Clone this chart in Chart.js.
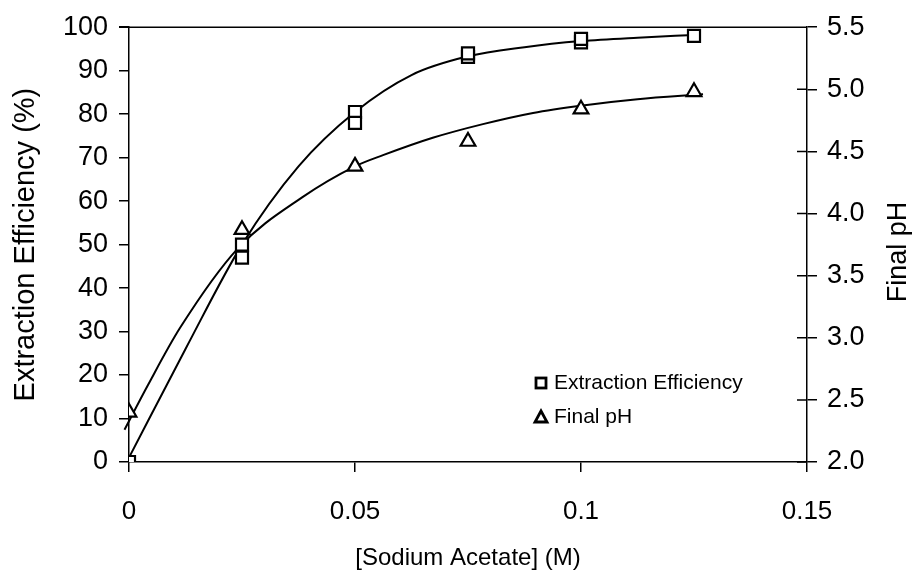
<!DOCTYPE html>
<html>

<head>
    <title>Extraction Efficiency vs Sodium Acetate</title>
    <style>
        body {
            margin: 0px;
            background-color: #ffffff;
        }
    </style>
    <!-- Chart.js for drawing the chart -->
    <script src="https://cdn.jsdelivr.net/npm/chart.js"></script>
</head>

<body>
    <div style="position: relative; width: 917px; height: 579px;">
        <canvas id="myChart"></canvas>
    </div>
</body>
<script>
// Measured points: extraction efficiency (%) at each sodium acetate concentration (M)
const eeConc = [0, 0.025, 0.025, 0.05, 0.05, 0.075, 0.075, 0.1, 0.1, 0.125];
const eeValues = [0, 50, 47, 80.5, 78, 93.2, 94, 96.5, 97.3, 98];

// Measured points: final pH
const phConc = [0, 0.025, 0.05, 0.075, 0.1, 0.125];
const phValues = [2.4, 3.87, 4.38, 4.58, 4.84, 4.98];

// Smooth trend lines traced through the data
const eeFitConc = [0, 0.0125, 0.025, 0.0375, 0.05, 0.0625, 0.075, 0.0875, 0.1, 0.1125, 0.125];
const eeFitValues = [1, 26, 50, 68, 80.5, 89, 93.3, 95.4, 96.8, 97.6, 98.2];
const phFitConc = [-0.001, 0.0042, 0.0113, 0.0241, 0.0383, 0.05, 0.0562, 0.0672, 0.0783, 0.0894, 0.1004, 0.1125, 0.127];
const phFitValues = [2.26, 2.62, 3.08, 3.72, 4.13, 4.38, 4.47, 4.61, 4.72, 4.81, 4.87, 4.92, 4.96];

// Axis ticks
const xTicks = [0, 0.05, 0.1, 0.15];
const xTickLabels = ['0', '0.05', '0.1', '0.15'];
const eeTicks = [0, 10, 20, 30, 40, 50, 60, 70, 80, 90, 100];
const phTicks = [2.0, 2.5, 3.0, 3.5, 4.0, 4.5, 5.0, 5.5];

const legendItems = ['Extraction Efficiency', 'Final pH'];

const FONT = '"Liberation Sans", Arial, sans-serif';

function toPoints(xs, ys) {
    return xs.map((x, i) => ({ x: x, y: ys[i] }));
}

// Top frame line, inward ticks on the right axis, the right title and the legend
const extrasPlugin = {
    id: 'extras',
    afterDraw(chart) {
        const ctx = chart.ctx;
        const area = chart.chartArea;
        const y2 = chart.scales.y2;
        ctx.save();
        ctx.strokeStyle = '#000';
        ctx.lineWidth = 1.5;
        ctx.beginPath();
        ctx.moveTo(area.left - 10, area.top);
        ctx.lineTo(area.right, area.top);
        phTicks.forEach(v => {
            const py = y2.getPixelForValue(v);
            ctx.moveTo(area.right - 10, py);
            ctx.lineTo(area.right, py);
        });
        ctx.stroke();

        // right axis title, reading bottom to top
        ctx.fillStyle = '#000';
        ctx.font = '27px ' + FONT;
        ctx.textAlign = 'center';
        ctx.textBaseline = 'middle';
        ctx.translate(899, 252);
        ctx.rotate(-Math.PI / 2);
        ctx.fillText('Final pH', 0, 0);
        ctx.restore();

        // legend
        ctx.save();
        ctx.strokeStyle = '#000';
        ctx.fillStyle = '#000';
        ctx.lineWidth = 2.8;
        ctx.font = '21px ' + FONT;
        ctx.textAlign = 'left';
        ctx.textBaseline = 'middle';
        const lx = 541, ly1 = 383, ly2 = 417;
        ctx.strokeRect(lx - 5, ly1 - 5, 10, 10);
        ctx.fillText(legendItems[0], lx + 13, ly1);
        ctx.beginPath();
        ctx.moveTo(lx, ly2 - 6);
        ctx.lineTo(lx + 6, ly2 + 5);
        ctx.lineTo(lx - 6, ly2 + 5);
        ctx.closePath();
        ctx.stroke();
        ctx.fillText(legendItems[1], lx + 13, ly2);
        ctx.restore();
    }
};

const chartContext = document.getElementById('myChart').getContext('2d');

const myChart = new Chart(chartContext, {
    type: 'line',
    data: {
        datasets: [{
            label: legendItems[0],
            data: toPoints(eeConc, eeValues),
            yAxisID: 'y',
            showLine: false,
            pointStyle: 'rect',
            pointRadius: 8.5,
            pointBorderWidth: 2.2,
            pointBorderColor: '#000',
            pointBackgroundColor: '#fff'
        }, {
            label: legendItems[1],
            data: toPoints(phConc, phValues),
            yAxisID: 'y2',
            showLine: false,
            pointStyle: 'triangle',
            pointRadius: 8.5,
            pointBorderWidth: 2.2,
            pointBorderColor: '#000',
            pointBackgroundColor: '#fff'
        }, {
            label: 'ee fit',
            data: toPoints(eeFitConc, eeFitValues),
            yAxisID: 'y',
            borderColor: '#000',
            borderWidth: 2,
            pointRadius: 0,
            cubicInterpolationMode: 'monotone'
        }, {
            label: 'ph fit',
            data: toPoints(phFitConc, phFitValues),
            yAxisID: 'y2',
            borderColor: '#000',
            borderWidth: 2,
            pointRadius: 0,
            cubicInterpolationMode: 'monotone',
            clip: { left: 6, top: 0, right: 0, bottom: 0 }
        }]
    },
    options: {
        responsive: true,
        maintainAspectRatio: false,
        animation: false,
        layout: { padding: { top: 26, left: 0, right: 0, bottom: 0 } },
        plugins: {
            legend: { display: false },
            tooltip: { enabled: false }
        },
        scales: {
            x: {
                type: 'linear',
                min: 0,
                max: 0.15,
                afterBuildTicks: axis => { axis.ticks = xTicks.map(v => ({ value: v })); },
                afterFit: axis => { axis.height = 117; },
                ticks: {
                    color: '#000',
                    font: { family: FONT, size: 26 },
                    padding: 24,
                    maxRotation: 0,
                    callback: (v, i) => xTickLabels[i]
                },
                grid: { drawOnChartArea: false, drawTicks: true, tickLength: 10, color: '#000', lineWidth: 1.5 },
                border: { display: true, color: '#000', width: 1.5 },
                title: {
                    display: true,
                    text: '[Sodium Acetate] (M)',
                    color: '#000',
                    font: { family: FONT, size: 24 },
                    padding: { top: 0, bottom: 6 }
                }
            },
            y: {
                position: 'left',
                min: 0,
                max: 100,
                afterBuildTicks: axis => { axis.ticks = eeTicks.map(v => ({ value: v })); },
                afterFit: axis => { axis.width = 129; },
                ticks: {
                    color: '#000',
                    font: { family: FONT, size: 27 },
                    padding: 11
                },
                grid: { drawOnChartArea: false, drawTicks: true, tickLength: 10, color: '#000', lineWidth: 1.5 },
                border: { display: true, color: '#000', width: 1.5 },
                title: {
                    display: true,
                    text: 'Extraction Efficiency (%)',
                    color: '#000',
                    font: { family: FONT, size: 29 },
                    padding: { top: 9, bottom: 0 }
                }
            },
            y2: {
                position: 'right',
                min: 2,
                max: 5.5,
                afterBuildTicks: axis => { axis.ticks = phTicks.map(v => ({ value: v })); },
                afterFit: axis => { axis.width = 110; },
                ticks: {
                    color: '#000',
                    font: { family: FONT, size: 27 },
                    padding: 10,
                    callback: v => v.toFixed(1)
                },
                grid: { drawOnChartArea: false, drawTicks: true, tickLength: 10, color: '#000', lineWidth: 1.5 },
                border: { display: true, color: '#000', width: 1.5 }
            }
        }
    },
    plugins: [extrasPlugin]
});
</script>
</html>
